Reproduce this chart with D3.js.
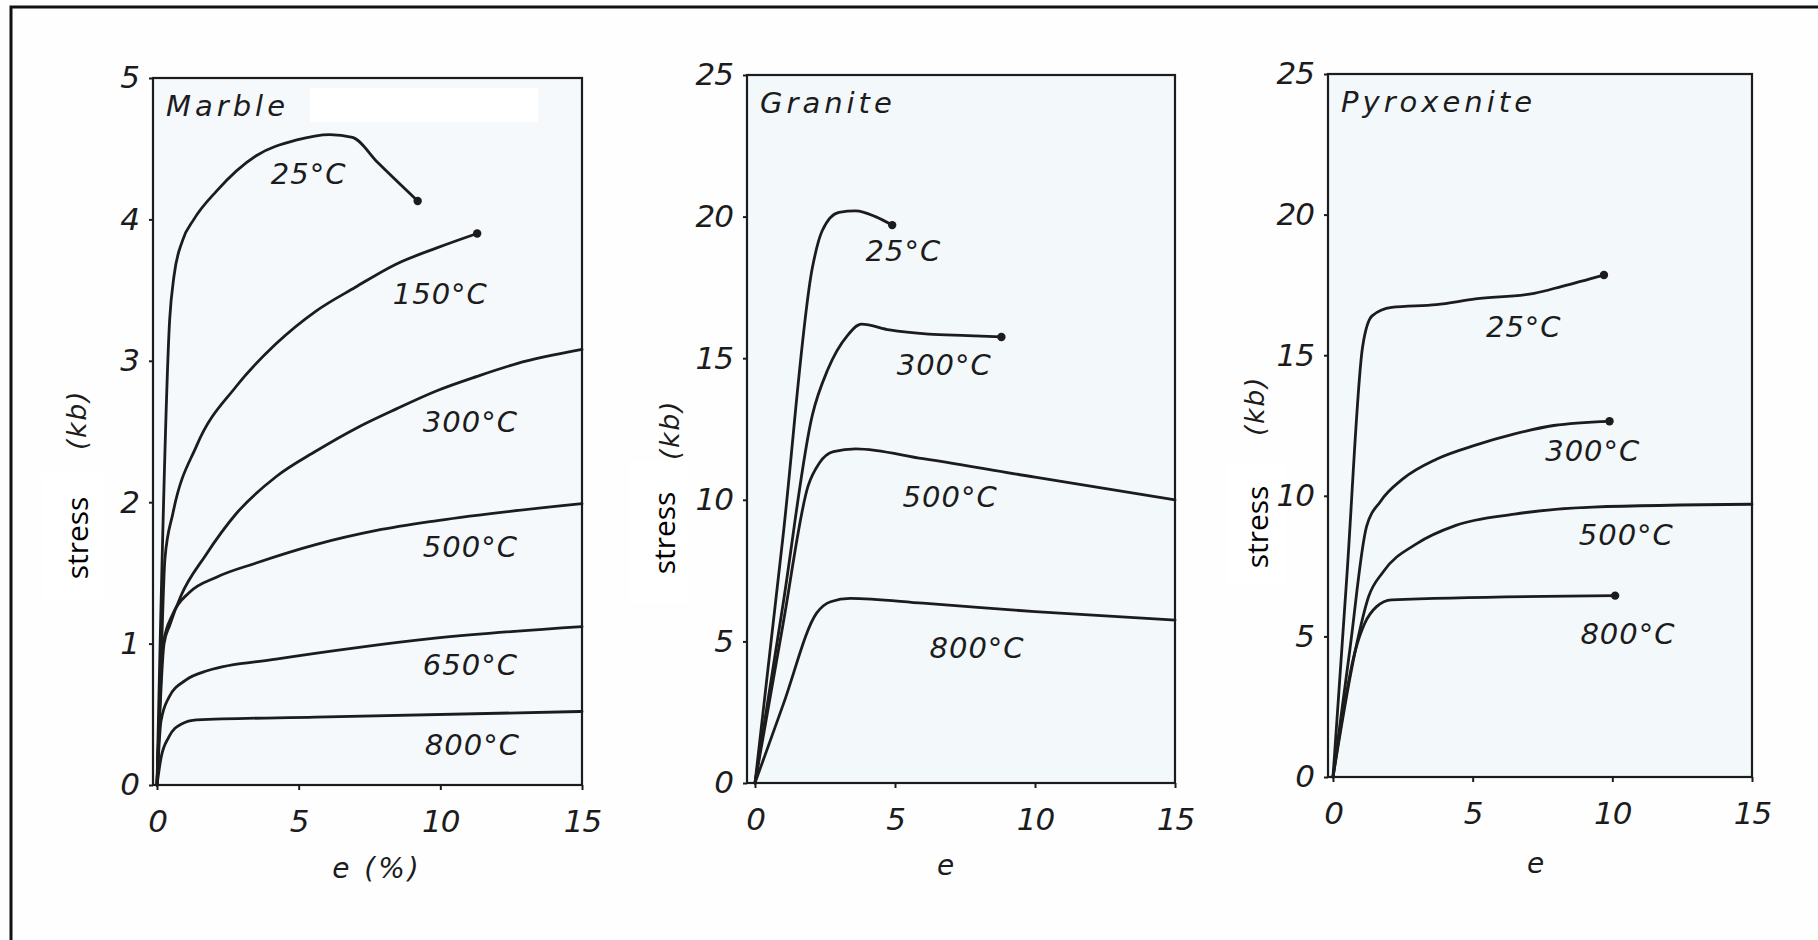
<!DOCTYPE html>
<html><head><meta charset="utf-8">
<script src="https://cdn.jsdelivr.net/npm/d3@7"></script>
<style>
html,body{margin:0;padding:0;background:#fefefe;}
svg{display:block;}
</style></head><body>
<svg id="chart" width="1818" height="940"></svg>
<script>
// ---------- DATA ----------
const xTickValues = [0, 5, 10, 15];
const marbleYTicks = [0, 1, 2, 3, 4, 5];
const rockYTicks = [0, 5, 10, 15, 20, 25];

const marbleTemps = ["25°C", "150°C", "300°C", "500°C", "650°C", "800°C"];
const marble25  = [[0,0],[0.45,3.3],[0.6,3.6],[0.9,3.85],[1.3,4.0],[2.1,4.2],[3.5,4.45],[4.9,4.56],[6.1,4.6],[6.9,4.58],[7.8,4.4],[9.2,4.13]];
const marble150 = [[0,0],[0.15,0.9],[0.28,1.6],[0.56,1.92],[1.4,2.4],[2.8,2.82],[4.2,3.12],[5.6,3.35],[7.0,3.52],[8.4,3.68],[9.9,3.8],[11.3,3.9]];
const marble300 = [[0,0],[0.25,1.0],[0.45,1.13],[0.85,1.34],[1.7,1.62],[2.8,1.92],[4.2,2.18],[5.6,2.36],[7.0,2.52],[8.45,2.66],[9.9,2.79],[11.3,2.89],[12.7,2.98],[15,3.08]];
const marble500 = [[0,0],[0.22,1.0],[0.56,1.21],[1.13,1.36],[2.1,1.47],[3.5,1.57],[5.6,1.7],[7.75,1.8],[9.9,1.87],[15,1.99]];
const marble650 = [[0,0],[0.14,0.45],[0.42,0.62],[1.0,0.74],[1.8,0.81],[4.2,0.89],[7.0,0.97],[9.9,1.04],[15,1.12]];
const marble800 = [[0,0],[0.14,0.19],[0.42,0.34],[0.85,0.43],[1.4,0.46],[5.6,0.48],[15,0.52]];

const graniteTemps = ["25°C", "300°C", "500°C", "800°C"];
const granite25  = [[0,0],[1.0,8.7],[2.05,18.2],[2.4,19.5],[3.0,20.15],[3.6,20.2],[4.3,20.0],[4.9,19.7]];
const granite300 = [[0,0],[1.0,6.3],[2.05,13.0],[2.6,14.6],[3.3,15.8],[3.8,16.2],[4.8,16.0],[6.2,15.85],[7.6,15.8],[8.8,15.75]];
const granite500 = [[0,0],[1.0,5.6],[1.9,10.5],[2.3,11.3],[2.8,11.7],[3.6,11.8],[6.0,11.45],[10,10.8],[15,10.0]];
const granite800 = [[0,0],[1.0,2.75],[2.2,6.0],[2.7,6.4],[3.4,6.52],[6.0,6.35],[10,6.05],[15,5.75]];

const pyroTemps = ["25°C", "300°C", "500°C", "800°C"];
const pyro25  = [[0,0],[0.5,7.2],[1.06,15.3],[1.4,16.4],[2.1,16.7],[3.7,16.8],[5.1,17.0],[7.2,17.2],[8.2,17.45],[9.7,17.85]];
const pyro300 = [[0,0],[0.6,4.5],[1.2,8.9],[1.7,9.8],[2.5,10.6],[3.7,11.3],[5.1,11.8],[6.5,12.2],[7.9,12.5],[9.9,12.65]];
const pyro500 = [[0,0],[0.8,4.5],[1.27,6.4],[1.8,7.3],[3.0,8.3],[4.4,8.95],[6.5,9.35],[9.3,9.6],[15,9.7]];
const pyro800 = [[0,0],[0.8,4.5],[1.13,5.45],[1.55,6.05],[2.1,6.3],[10.1,6.45]];

// where each temperature label sits, in data units (e, stress)
const marbleLabelAt  = [[5.35,4.32],[10.0,3.47],[11.06,2.57],[11.06,1.68],[11.06,0.85],[11.13,0.28]];
const graniteLabelAt = [[5.3,18.8],[6.76,14.76],[6.97,10.09],[7.93,4.78]];
const pyroLabelAt    = [[6.83,16.0],[9.3,11.6],[10.5,8.6],[10.56,5.1]];

// which series end with a dot
const marbleEndDot  = [true, true, false, false, false, false];
const graniteEndDot = [true, true, false, false];
const pyroEndDot    = [true, true, false, true];

// ---------- LAYOUT ----------
const panels = [
  { title: "Marble", xTitle: "e (%)", yMax: 5, yTicks: marbleYTicks,
    series: [marble25, marble150, marble300, marble500, marble650, marble800],
    temps: marbleTemps, labelAt: marbleLabelAt, endDot: marbleEndDot,
    x0: 157, x1: 582, yBot: 785, yTop: 78, frameLeft: 153,
    xTitleX: 377, xTitleY: 878, kbX: 76, kbY: 420,
    stressBox: [42, 473, 63, 129], stressC: [76, 538], fill: "#f5f9fc" },
  { title: "Granite", xTitle: "e", yMax: 25, yTicks: rockYTicks,
    series: [granite25, granite300, granite500, granite800],
    temps: graniteTemps, labelAt: graniteLabelAt, endDot: graniteEndDot,
    x0: 755, x1: 1175, yBot: 783, yTop: 75, frameLeft: 747,
    xTitleX: 947, xTitleY: 875, kbX: 669, kbY: 430,
    stressBox: [630, 461, 58, 142], stressC: [663, 533], fill: "#f3f8fb" },
  { title: "Pyroxenite", xTitle: "e", yMax: 25, yTicks: rockYTicks,
    series: [pyro25, pyro300, pyro500, pyro800],
    temps: pyroTemps, labelAt: pyroLabelAt, endDot: pyroEndDot,
    x0: 1333, x1: 1752, yBot: 777, yTop: 74, frameLeft: 1328,
    xTitleX: 1537, xTitleY: 873, kbX: 1254, kbY: 406,
    stressBox: [1226, 464, 59, 121], stressC: [1256, 527], fill: "#f3f8fb" }
];

const ink = "#1c1c1c";
const sketchFont = "'DejaVu Sans', sans-serif";
const svg = d3.select("#chart");

// outer (cropped) border
svg.append("path")
  .attr("d", "M11,940 L11,7 L1818,7")
  .attr("fill", "none").attr("stroke", "#111").attr("stroke-width", 3);

panels.forEach(p => {
  const x = d3.scaleLinear().domain([0, 15]).range([p.x0, p.x1]);
  const y = d3.scaleLinear().domain([0, p.yMax]).range([p.yBot, p.yTop]);
  const g = svg.append("g");

  // plot frame
  g.append("rect")
    .attr("x", p.frameLeft).attr("y", y(p.yMax))
    .attr("width", x(15) - p.frameLeft).attr("height", y(0) - y(p.yMax))
    .attr("fill", p.fill).attr("stroke", ink).attr("stroke-width", 2.2);

  if (p.title === "Marble") {
    g.append("rect").attr("x", 310).attr("y", 88).attr("width", 228).attr("height", 34).attr("fill", "#ffffff");
  }

  // "stress" white patch (drawn first so labels stay visible)
  g.append("rect")
    .attr("x", p.stressBox[0]).attr("y", p.stressBox[1])
    .attr("width", p.stressBox[2]).attr("height", p.stressBox[3])
    .attr("fill", "#ffffff");

  // x axis
  const xa = g.append("g").attr("transform", `translate(0,${y(0)})`)
    .call(d3.axisBottom(x).tickValues(xTickValues).tickFormat(d3.format("d")).tickSize(5).tickPadding(20));
  // y axis
  const ya = g.append("g").attr("transform", `translate(${p.frameLeft},0)`)
    .call(d3.axisLeft(y).tickValues(p.yTicks).tickFormat(d3.format("d")).tickSize(4).tickPadding(10));
  [xa, ya].forEach(a => {
    a.select(".domain").remove();
    a.selectAll(".tick line").attr("stroke", ink).attr("stroke-width", 2);
    a.selectAll(".tick text")
      .attr("fill", ink)
      .style("font-family", sketchFont).style("font-style", "italic")
      .style("font-size", "31px").style("letter-spacing", "-1px");
  });

  // curves
  const line = d3.line().x(d => x(d[0])).y(d => y(d[1])).curve(d3.curveMonotoneX);
  g.selectAll("path.curve").data(p.series).join("path")
    .attr("class", "curve")
    .attr("d", line)
    .attr("fill", "none").attr("stroke", ink)
    .attr("stroke-width", 2.8).attr("stroke-linejoin", "round").attr("stroke-linecap", "round");

  // end dots
  g.selectAll("circle.end").data(p.series.filter((s, i) => p.endDot[i])).join("circle")
    .attr("class", "end")
    .attr("cx", s => x(s[s.length - 1][0]))
    .attr("cy", s => y(s[s.length - 1][1]))
    .attr("r", 4.2).attr("fill", ink);

  // temperature labels
  g.selectAll("text.temp").data(p.temps).join("text")
    .attr("class", "temp")
    .attr("x", (t, i) => x(p.labelAt[i][0]))
    .attr("y", (t, i) => y(p.labelAt[i][1]))
    .attr("text-anchor", "middle").attr("dominant-baseline", "central")
    .attr("fill", ink)
    .style("font-family", sketchFont).style("font-style", "italic")
    .style("font-size", "29px").style("letter-spacing", "1px")
    .text(t => t);

  // panel title
  g.append("text")
    .attr("x", p.frameLeft + 13).attr("y", y(p.yMax) + 38)
    .attr("fill", ink)
    .style("font-family", sketchFont).style("font-style", "italic")
    .style("font-size", "29px").style("letter-spacing", "4px")
    .text(p.title);

  // x-axis title
  g.append("text")
    .attr("x", p.xTitleX).attr("y", p.xTitleY)
    .attr("text-anchor", "middle").attr("fill", ink)
    .style("font-family", sketchFont).style("font-style", "italic")
    .style("font-size", "28px").style("letter-spacing", "3px")
    .text(p.xTitle);

  // y-axis unit (kb)
  g.append("text")
    .attr("transform", `translate(${p.kbX},${p.kbY}) rotate(-90)`)
    .attr("text-anchor", "middle").attr("dominant-baseline", "central")
    .attr("fill", ink)
    .style("font-family", sketchFont).style("font-style", "italic")
    .style("font-size", "27px").style("letter-spacing", "1.5px")
    .text("(kb)");

  // "stress" label
  g.append("text")
    .attr("transform", `translate(${p.stressC[0]},${p.stressC[1]}) rotate(-90)`)
    .attr("text-anchor", "middle").attr("dominant-baseline", "central")
    .attr("fill", "#000")
    .style("font-family", "'Open Sans', sans-serif")
    .style("font-size", "30px")
    .text("stress");
});
</script>
</body></html>
